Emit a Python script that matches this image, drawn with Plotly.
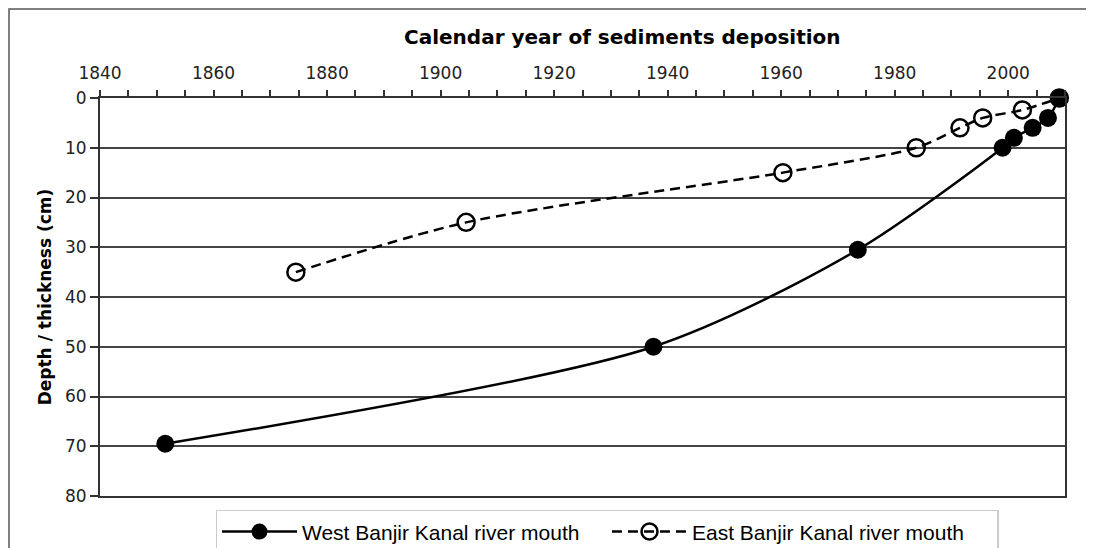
import plotly.graph_objects as go

# West Banjir Kanal river mouth
west_year = [1851.5, 1937.5, 1973.5, 1999, 2001, 2004.3, 2007, 2009]
west_depth = [69.5, 50, 30.5, 10, 8, 6, 4, 0]

# East Banjir Kanal river mouth
east_year = [1874.5, 1904.5, 1960.3, 1983.8, 1991.5, 1995.5, 2002.5, 2009]
east_depth = [35, 25, 15, 10, 6, 4, 2.4, 0]

x_ticks = [1840, 1860, 1880, 1900, 1920, 1940, 1960, 1980, 2000]
y_ticks = [0, 10, 20, 30, 40, 50, 60, 70, 80]

fig = go.Figure()

fig.add_trace(go.Scatter(
    x=west_year, y=west_depth, name='West Banjir Kanal river mouth',
    mode='lines+markers', cliponaxis=False,
    line=dict(color='black', width=2.5, shape='spline', smoothing=0.8),
    marker=dict(symbol='circle', size=18, color='black')
))

fig.add_trace(go.Scatter(
    x=east_year, y=east_depth, name='East Banjir Kanal river mouth',
    mode='lines+markers', cliponaxis=False,
    line=dict(color='black', width=2.5, dash='10px,6px', shape='spline', smoothing=0.8),
    marker=dict(symbol='circle-open', size=17, color='black', line=dict(width=2.5))
))

fig.update_xaxes(
    side='top', range=[1840, 2010], tickvals=x_ticks,
    ticks='outside', ticklen=6, tickwidth=1.5, tickcolor='#333',
    minor=dict(dtick=5, tick0=1840, ticks='outside', ticklen=6, tickwidth=1.5, tickcolor='#333'),
    showgrid=False, showline=True, linecolor='#333', linewidth=2, mirror=True,
    tickfont=dict(family='DejaVu Sans', size=17, color='#222'),
    ticklabelstandoff=4, zeroline=False
)

fig.update_yaxes(
    range=[80, 0], tickvals=y_ticks,
    ticks='outside', ticklen=8, tickwidth=1.5, tickcolor='#333',
    showgrid=True, gridcolor='#444', gridwidth=2,
    showline=True, linecolor='#333', linewidth=2, mirror=True,
    tickfont=dict(family='DejaVu Sans', size=17, color='#222'),
    title=dict(text='<b>Depth / thickness (cm)</b>', standoff=9,
               font=dict(family='DejaVu Sans', size=17, color='black')),
    zeroline=False
)

fig.add_annotation(
    text='<b>Calendar year of sediments deposition</b>', xref='paper', yref='paper',
    x=(622 - 100) / 965, y=(496 - 37) / 398, showarrow=False, xanchor='center', yanchor='middle',
    font=dict(family='DejaVu Sans', size=20, color='black')
)

# outer frame of the figure
fig.add_shape(type='rect', xref='paper', yref='paper',
              x0=(9 - 100) / 965, x1=1.05, y0=-0.2, y1=(496 - 9) / 398,
              line=dict(color='#555', width=1.5), layer='below')

# page has an 8px body margin, so margins are shifted to land the plot at 100..1065 x 98..496
fig.update_layout(
    width=1094, height=548,
    margin=dict(l=92, r=37, t=90, b=60, autoexpand=False),
    plot_bgcolor='white', paper_bgcolor='white',
    showlegend=True,
    legend=dict(orientation='h', x=(607 - 100) / 965, y=-0.035, xanchor='center', yanchor='top',
                bordercolor='#ccc', borderwidth=1.5,
                font=dict(family='Liberation Sans', size=21, color='black'),
                itemwidth=75, entrywidth=300, tracegroupgap=0)
)

fig.write_html("out.html")
